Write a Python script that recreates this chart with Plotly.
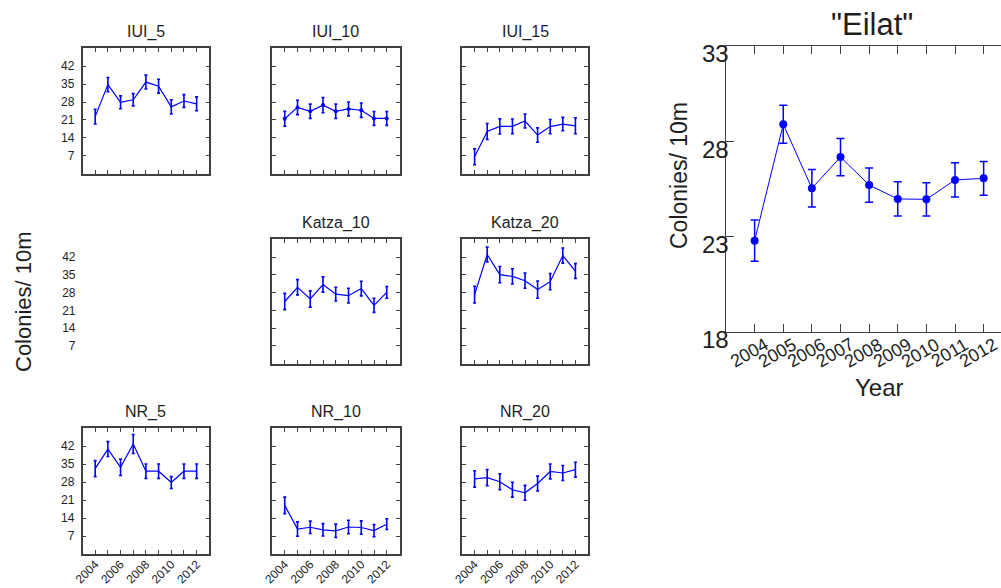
import plotly.graph_objects as go

W, H = 1001, 588
FONT = "Liberation Sans, Arial, sans-serif"
INK = "#1e1e1e"
FRAME = "#404040"
BLUE = "#0000ff"

years = [2004, 2005, 2006, 2007, 2008, 2009, 2010, 2011, 2012]
small_y_ticks = [7, 14, 21, 28, 35, 42]
big_y_ticks = [18, 23, 28, 33]

# Mean colonies per 10 m and error half-widths, per site and depth
iui_5 = [22.3, 34.8, 27.9, 28.9, 35.8, 34.2, 26.1, 28.4, 27.3]
iui_5_err = [2.9, 2.8, 2.5, 2.4, 2.7, 2.7, 2.8, 2.5, 2.7]
iui_10 = [21.5, 25.9, 24.4, 26.8, 24.4, 25.3, 24.8, 21.6, 21.6]
iui_10_err = [2.9, 2.8, 2.8, 3.0, 2.8, 2.7, 2.8, 2.7, 2.7]
iui_15 = [6.6, 16.5, 18.5, 18.5, 20.6, 15.1, 18.4, 19.4, 18.7]
iui_15_err = [3.1, 3.1, 3.0, 2.9, 2.7, 2.8, 2.8, 2.6, 3.1]
katza_10 = [24.5, 30.1, 25.5, 31.2, 27.4, 26.8, 29.6, 23.0, 28.1]
katza_10_err = [3.2, 3.0, 3.2, 3.0, 2.7, 2.9, 2.9, 2.8, 2.3]
katza_20 = [27.2, 43.0, 35.1, 34.4, 32.7, 29.2, 32.3, 42.6, 36.5]
katza_20_err = [3.3, 2.9, 3.2, 3.0, 3.0, 3.4, 3.2, 3.0, 2.9]
nr_5 = [33.2, 40.8, 33.7, 42.8, 32.2, 32.2, 27.8, 32.2, 32.2]
nr_5_err = [3.1, 2.9, 3.2, 3.7, 2.8, 2.8, 2.3, 2.8, 2.8]
nr_10 = [18.9, 9.7, 10.4, 9.4, 9.0, 10.5, 10.3, 9.1, 11.6]
nr_10_err = [3.2, 2.8, 2.4, 2.4, 2.6, 2.6, 2.6, 2.4, 2.1]
nr_20 = [29.2, 29.7, 28.1, 25.0, 23.8, 27.4, 32.1, 31.5, 32.8]
nr_20_err = [3.2, 3.1, 3.1, 2.9, 2.9, 2.9, 2.9, 2.9, 2.9]
eilat = [22.78, 28.89, 25.53, 27.17, 25.70, 24.97, 24.95, 25.97, 26.05]
eilat_err = [1.08, 1.00, 0.98, 0.98, 0.90, 0.90, 0.87, 0.90, 0.88]

# Pixel layout of the small-multiple grid
col_px = [(82.5, 209.3), (272.0, 399.5), (462.0, 588.0)]
row_px = [(48.3, 173.7), (239.3, 363.7), (428.0, 554.0)]


def xdom(left, right):
    return [left / W, min(right / W, 1.0)]


def ydom(top, bottom):
    return [1 - bottom / H, 1 - top / H]


# (title, row, col, values, errors, show point markers)
panels = [
    ("IUI_5", 0, 0, iui_5, iui_5_err, False),
    ("IUI_10", 0, 1, iui_10, iui_10_err, True),
    ("IUI_15", 0, 2, iui_15, iui_15_err, False),
    (None, 1, 0, None, None, False),  # empty cell that only carries the row's y labels
    ("Katza_10", 1, 1, katza_10, katza_10_err, False),
    ("Katza_20", 1, 2, katza_20, katza_20_err, False),
    ("NR_5", 2, 0, nr_5, nr_5_err, False),
    ("NR_10", 2, 1, nr_10, nr_10_err, False),
    ("NR_20", 2, 2, nr_20, nr_20_err, False),
]

fig = go.Figure()
layout = {}
annotations = []

for i, (title, r, c, vals, errs, dots) in enumerate(panels, start=1):
    xn = "x" if i == 1 else f"x{i}"
    yn = "y" if i == 1 else f"y{i}"
    xkey = "xaxis" if i == 1 else f"xaxis{i}"
    ykey = "yaxis" if i == 1 else f"yaxis{i}"
    blank = title is None
    bottom = r == 2

    layout[xkey] = dict(
        domain=xdom(*col_px[c]), anchor=yn, range=[2003, 2013],
        tickvals=years,
        ticktext=[str(y) if y % 2 == 0 else "" for y in years],
        showticklabels=bottom, tickangle=-45, ticklabelstandoff=-3,
        tickfont=dict(family=FONT, size=12, color=INK),
        ticks="" if blank else "inside", ticklen=4, tickwidth=1, tickcolor=FRAME,
        showline=not blank, linecolor=FRAME, linewidth=1.5,
        mirror="ticks" if not blank else False,
        showgrid=False, zeroline=False, fixedrange=True, automargin=False,
    )
    layout[ykey] = dict(
        domain=ydom(*row_px[r]), anchor=xn, range=[0, 49],
        tickvals=small_y_ticks, showticklabels=(c == 0),
        ticklabelstandoff=6 if blank else 4,
        tickfont=dict(family=FONT, size=12, color=INK),
        ticks="" if blank else "inside", ticklen=4, tickwidth=1, tickcolor=FRAME,
        showline=not blank, linecolor=FRAME, linewidth=1.5,
        mirror="ticks" if not blank else False,
        showgrid=False, zeroline=False, fixedrange=True, automargin=False,
    )

    if blank:
        fig.add_trace(go.Scatter(x=[], y=[], xaxis=xn, yaxis=yn, showlegend=False))
        continue

    fig.add_trace(go.Scatter(
        x=years, y=vals, xaxis=xn, yaxis=yn,
        mode="lines+markers" if dots else "lines",
        line=dict(color=BLUE, width=1.2),
        marker=dict(color=BLUE, size=4),
        error_y=dict(type="data", array=errs, visible=True,
                     color=BLUE, thickness=1.6, width=1.5),
        showlegend=False, hoverinfo="x+y",
    ))

    left, right = col_px[c]
    top = row_px[r][0]
    annotations.append(dict(
        text=title, xref="paper", yref="paper",
        x=(left + right) / 2 / W, y=1 - (top - 16.5) / H,
        xanchor="center", yanchor="middle", showarrow=False,
        font=dict(family=FONT, size=16, color=INK),
    ))

# Large summary panel for all of Eilat
BIG_LEFT, BIG_TOP, BIG_BOTTOM = 726.0, 46.0, 331.7
px_per_year = 28.625
big_right_year = 2003 + (W - BIG_LEFT) / px_per_year

layout["xaxis10"] = dict(
    domain=[BIG_LEFT / W, 1.0], anchor="y10", range=[2003, big_right_year],
    tickvals=years, showticklabels=False,
    ticks="inside", ticklen=8, tickwidth=1, tickcolor=FRAME,
    showline=True, linecolor=FRAME, linewidth=1.2, mirror="ticks",
    showgrid=False, zeroline=False, fixedrange=True, automargin=False,
)
layout["yaxis10"] = dict(
    domain=ydom(BIG_TOP, BIG_BOTTOM), anchor="x10", range=[18, 33],
    tickvals=big_y_ticks, showticklabels=False,
    ticks="inside", ticklen=8, tickwidth=1, tickcolor=FRAME,
    showline=True, linecolor=FRAME, linewidth=1.2, mirror=False,
    showgrid=False, zeroline=False, fixedrange=True, automargin=False,
)

fig.add_trace(go.Scatter(
    x=years, y=eilat, xaxis="x10", yaxis="y10",
    mode="lines+markers",
    line=dict(color=BLUE, width=1),
    marker=dict(color=BLUE, size=8),
    error_y=dict(type="data", array=eilat_err, visible=True,
                 color=BLUE, thickness=1.5, width=4),
    showlegend=False, hoverinfo="x+y",
))

# Tick labels of the large panel sit just below their ticks
for v in big_y_ticks:
    annotations.append(dict(
        text=str(v), xref="paper", yref="y10",
        x=731 / W, y=v, xanchor="right", yanchor="middle", yshift=-8,
        showarrow=False, font=dict(family=FONT, size=24, color=INK),
    ))
for yr in years:
    annotations.append(dict(
        text=str(yr), xref="x10", yref="y10 domain",
        x=yr, y=0, xanchor="center", yanchor="middle",
        xshift=-6, yshift=-20.8, textangle=-30,
        showarrow=False, font=dict(family=FONT, size=18, color=INK),
    ))

annotations += [
    dict(text='"Eilat"', xref="paper", yref="paper", x=871.7 / W, y=1 - 24 / H,
         xanchor="center", yanchor="middle", showarrow=False,
         font=dict(family=FONT, size=31, color=INK)),
    dict(text="Year", xref="paper", yref="paper", x=879 / W, y=1 - 387 / H,
         xanchor="center", yanchor="middle", showarrow=False,
         font=dict(family=FONT, size=24, color=INK)),
    dict(text="Colonies/ 10m", xref="paper", yref="paper", x=679 / W, y=1 - 176 / H,
         xanchor="center", yanchor="middle", textangle=-90, showarrow=False,
         font=dict(family=FONT, size=23, color=INK)),
    dict(text="Colonies/ 10m", xref="paper", yref="paper", x=23 / W, y=1 - 302 / H,
         xanchor="center", yanchor="middle", textangle=-90, showarrow=False,
         font=dict(family=FONT, size=22, color=INK)),
]

fig.update_layout(
    width=W, height=H,
    margin=dict(l=0, r=0, t=0, b=0),
    paper_bgcolor="white", plot_bgcolor="white",
    font=dict(family=FONT, color=INK),
    annotations=annotations,
    showlegend=False,
    **layout,
)

fig.write_html("out.html", config={"displayModeBar": False})
